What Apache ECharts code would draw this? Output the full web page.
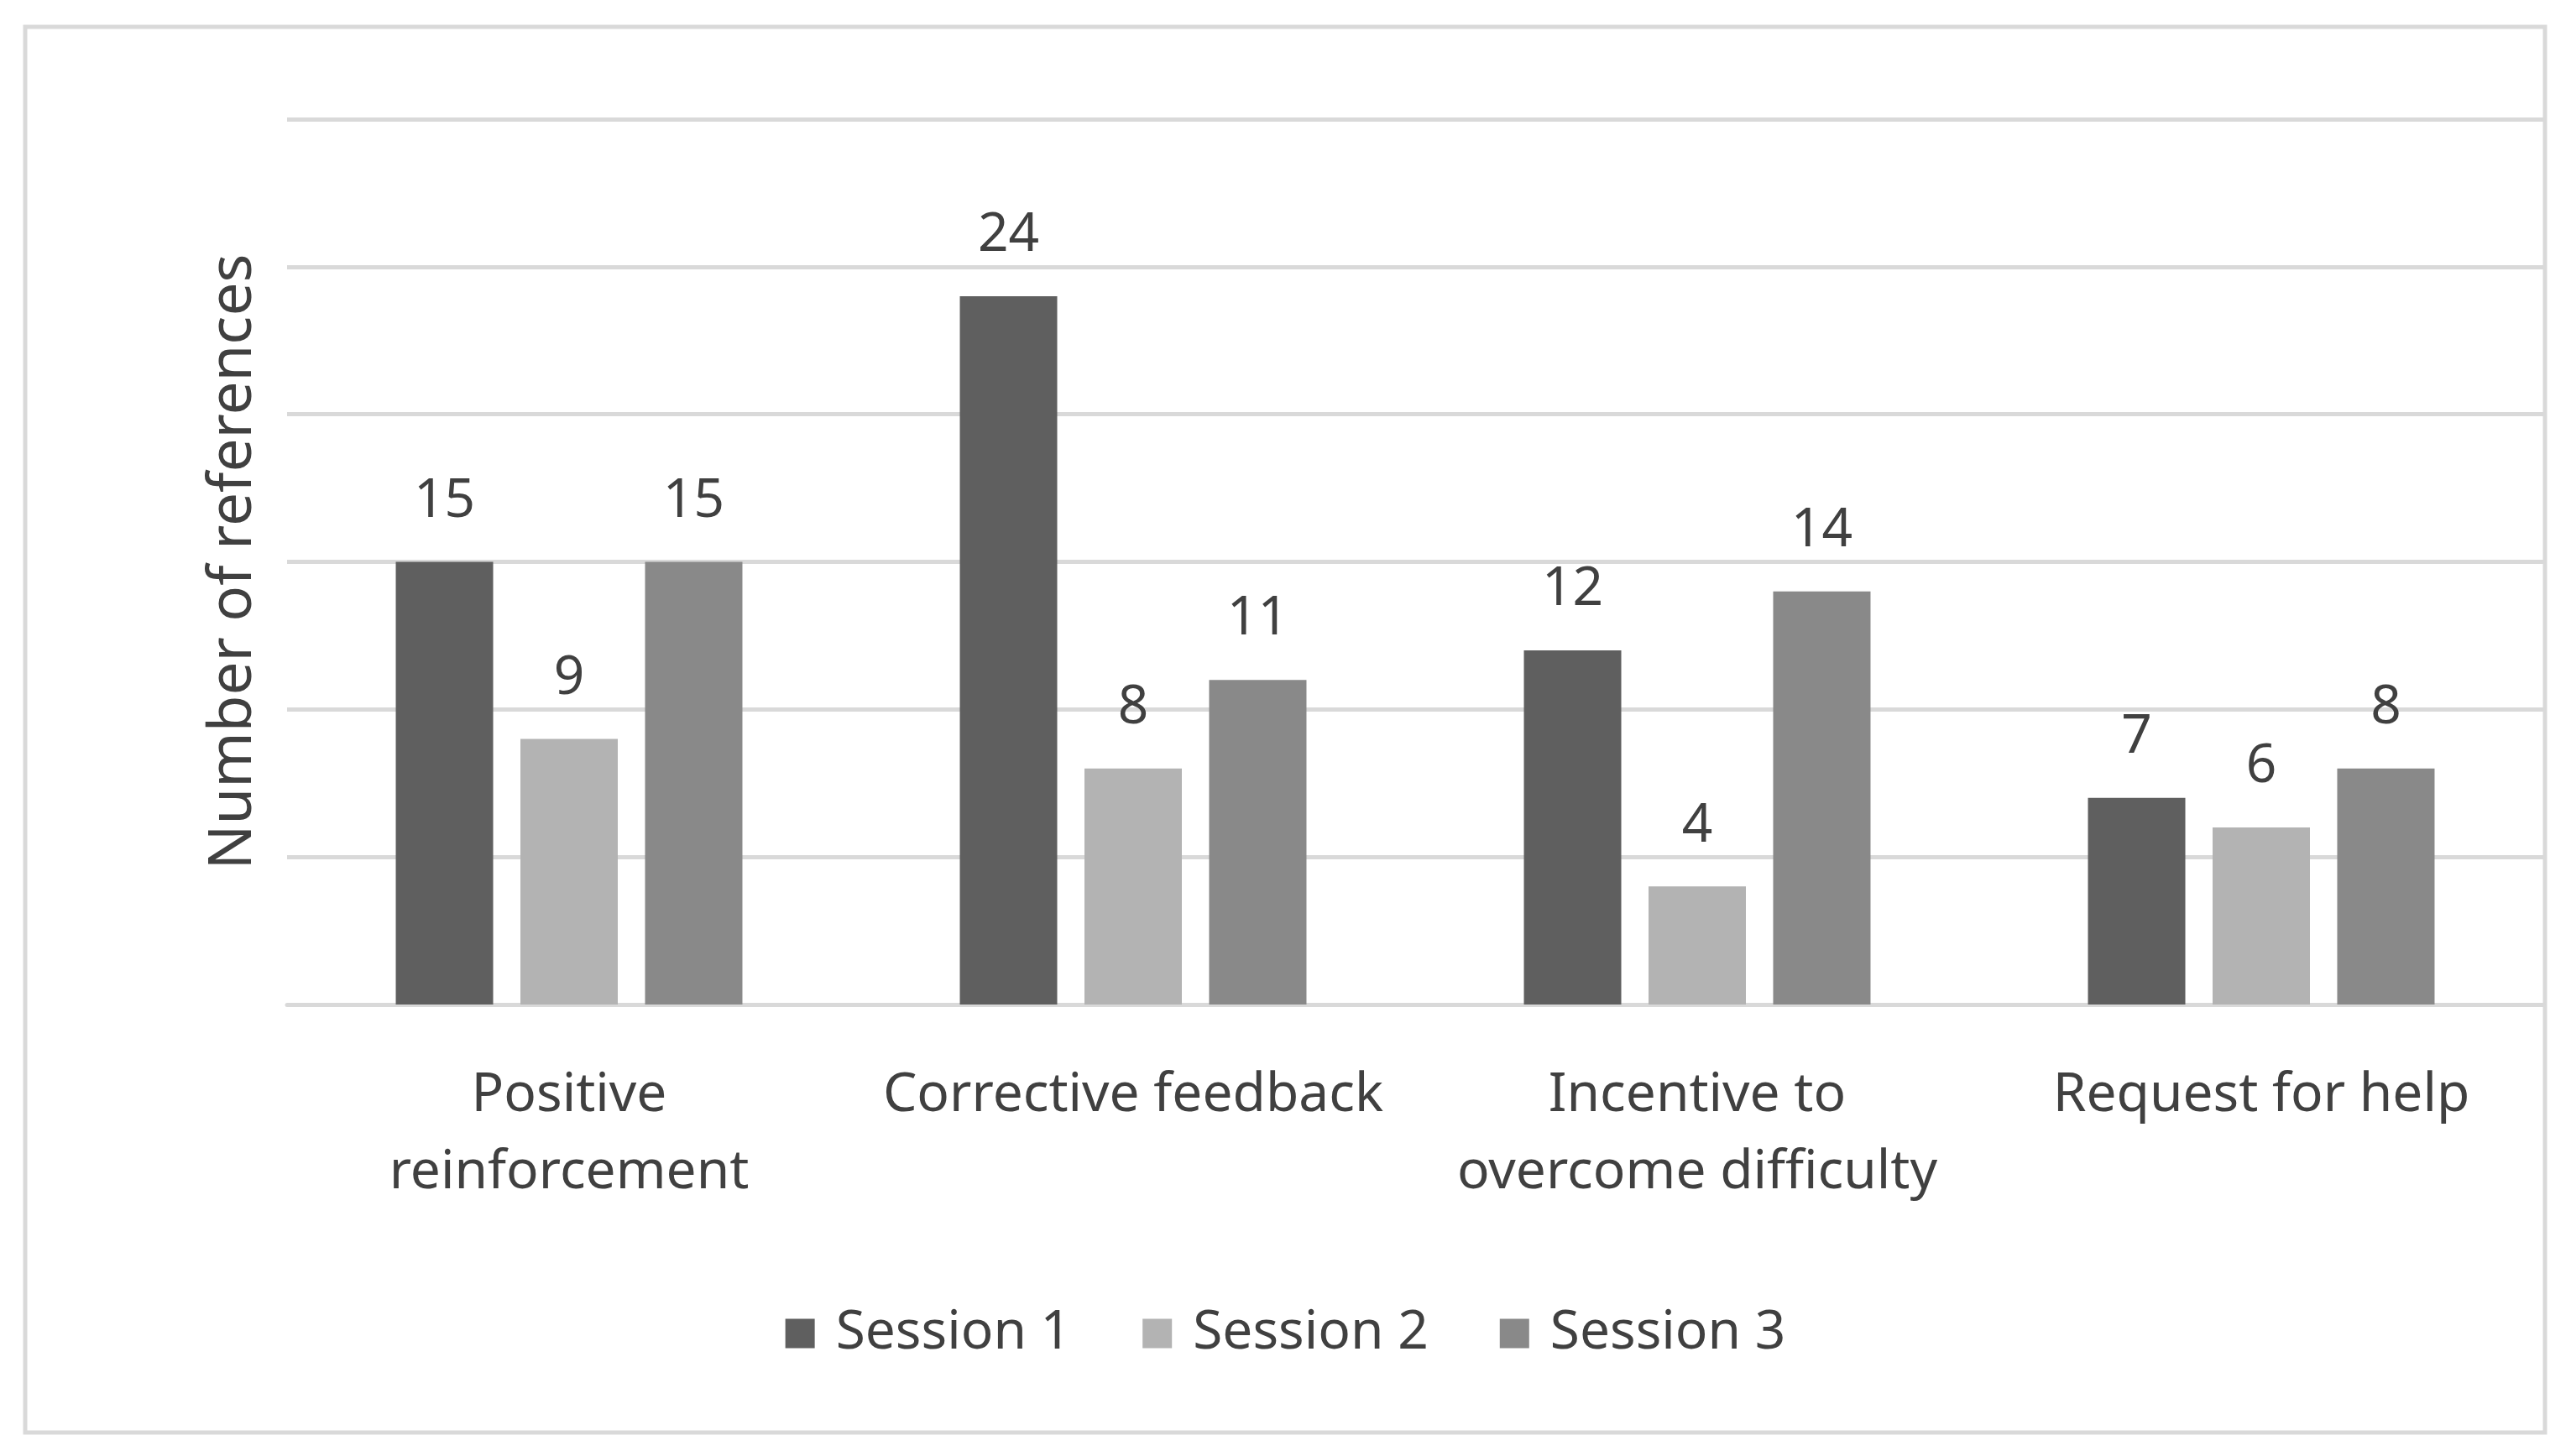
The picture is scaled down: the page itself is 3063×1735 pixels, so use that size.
<!DOCTYPE html>
<html>
<head>
<meta charset="utf-8">
<script src="https://cdn.jsdelivr.net/npm/echarts@6/dist/echarts.min.js"></script>
<style>
html,body{margin:0;padding:0;background:#fff;}
#chart{width:3063px;height:1735px;}
</style>
</head>
<body>
<div id="chart"></div>
<script>
const categories = ['Positive\nreinforcement', 'Corrective feedback', 'Incentive to\novercome difficulty', 'Request for help'];
const session1 = [15, 24, 12, 7];
const session2 = [9, 8, 4, 6];
const session3 = [15, 11, 14, 8];
const seriesNames = ['Session 1', 'Session 2', 'Session 3'];
const seriesColors = ['#5f5f5f', '#b3b3b3', '#898989'];
const yMin = 0, yMax = 30, yInterval = 5;

const FONT = 'Noto Sans';
const TXT = '#404040';

const chart = echarts.init(document.getElementById('chart'), null, {renderer: 'canvas'});
const values = [session1, session2, session3];

const option = {
  backgroundColor: '#ffffff',
  animation: false,
  graphic: [{
    type: 'rect',
    shape: {x: 30, y: 32, width: 3002, height: 1675},
    style: {fill: 'none', stroke: '#d9d9d9', lineWidth: 5},
    silent: true
  }],
  grid: {left: 342, right: 33, top: 142, bottom: 538, containLabel: false},
  legend: {
    data: seriesNames,
    top: 1549,
    left: 'center',
    icon: 'rect',
    itemWidth: 35,
    itemHeight: 35,
    itemGap: 85,
    textStyle: {fontFamily: FONT, fontSize: 64, color: TXT, lineHeight: 70, padding: [0, 0, 0, 20]}
  },
  xAxis: {
    type: 'category',
    data: categories,
    axisTick: {show: false},
    axisLine: {show: true, lineStyle: {color: '#d9d9d9', width: 5}},
    axisLabel: {
      interval: 0,
      margin: 63,
      fontFamily: FONT,
      fontSize: 64,
      lineHeight: 92,
      color: TXT
    }
  },
  yAxis: {
    type: 'value',
    min: yMin,
    max: yMax,
    interval: yInterval,
    name: 'Number of references',
    nameLocation: 'middle',
    nameGap: 28,
    nameTextStyle: {fontFamily: FONT, fontSize: 71, color: TXT},
    axisLabel: {show: false},
    axisTick: {show: false},
    axisLine: {show: false},
    splitLine: {show: true, lineStyle: {color: '#d9d9d9', width: 5}}
  },
  series: seriesNames.map((name, i) => ({
    name: name,
    type: 'bar',
    data: values[i],
    barWidth: 116,
    barGap: '28%',
    itemStyle: {color: seriesColors[i]},
    label: {
      show: true,
      position: 'top',
      distance: 40,
      fontFamily: FONT,
      fontSize: 64,
      color: TXT
    }
  }))
};
chart.setOption(option);
</script>
</body>
</html>
